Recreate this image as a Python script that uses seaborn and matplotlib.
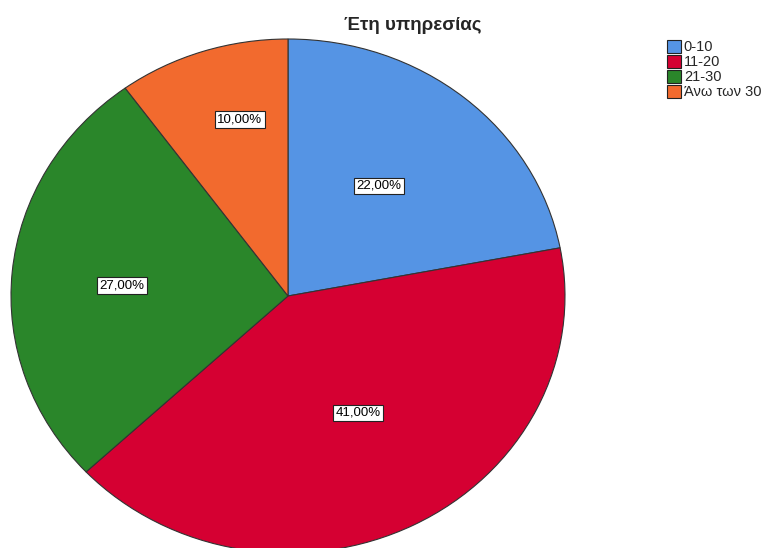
import matplotlib
matplotlib.use("Agg")
import matplotlib.pyplot as plt
import seaborn as sns
import numpy as np
from matplotlib.patches import Patch

categories = ["0-10", "11-20", "21-30", "Άνω των 30"]
values = [22.0, 41.0, 27.0, 10.0]
colors = ["#5594E4", "#D50032", "#2A862A", "#F26A2E"]
title = "Έτη υπηρεσίας"

sns.set_theme(style="white")
plt.rcParams["font.family"] = ["Liberation Sans", "DejaVu Sans"]

W, H = 763, 548
fig = plt.figure(figsize=(W / 100, H / 100), dpi=100)
# pie ellipse: x from 11..565 px, y from 39..553 px (top-down)
left, right, top, bottom = 11, 565, 39, 553
ax = fig.add_axes([left / W, (H - bottom) / H, (right - left) / W, (bottom - top) / H])

wedges, texts, autotexts = ax.pie(
    values,
    colors=colors,
    startangle=90,
    counterclock=False,
    autopct=lambda p: f"{p:.2f}".replace(".", ",") + "%",
    pctdistance=0.56,
    wedgeprops=dict(edgecolor="#333333", linewidth=0.8),
    textprops=dict(fontsize=9.5, color="black"),
)
# label placement (distance from centre, angle offset in degrees)
label_dist = [0.54, 0.52, 0.60, 0.707]
label_dang = [2.1, 2.0, 1.5, -3.8]
for w, t, d, da in zip(wedges, autotexts, label_dist, label_dang):
    ang = np.deg2rad((w.theta1 + w.theta2) / 2 + da)
    t.set_position((d * np.cos(ang), d * np.sin(ang)))
    t.set_bbox(dict(boxstyle="square,pad=0.18", facecolor="white", edgecolor="#222222", linewidth=0.8))
ax.set_aspect("auto")
ax.set_xlim(-1, 1)
ax.set_ylim(-1, 1)
ax.axis("off")
for w in wedges:
    w.set_clip_on(False)

fig.text(413 / W, 1 - 25 / H, title, ha="center", va="center", fontsize=13.5, fontweight="bold")

handles = [Patch(facecolor=c, edgecolor="#222222", linewidth=0.8) for c in colors]
fig.legend(handles, categories, loc="upper left", bbox_to_anchor=(667 / W, 1 - 40 / H),
           frameon=False, fontsize=10.5, handlelength=0.95, handleheight=0.95,
           handletextpad=0.2, labelspacing=0.05, borderpad=0, borderaxespad=0)

fig.savefig("out.png", dpi=100)
